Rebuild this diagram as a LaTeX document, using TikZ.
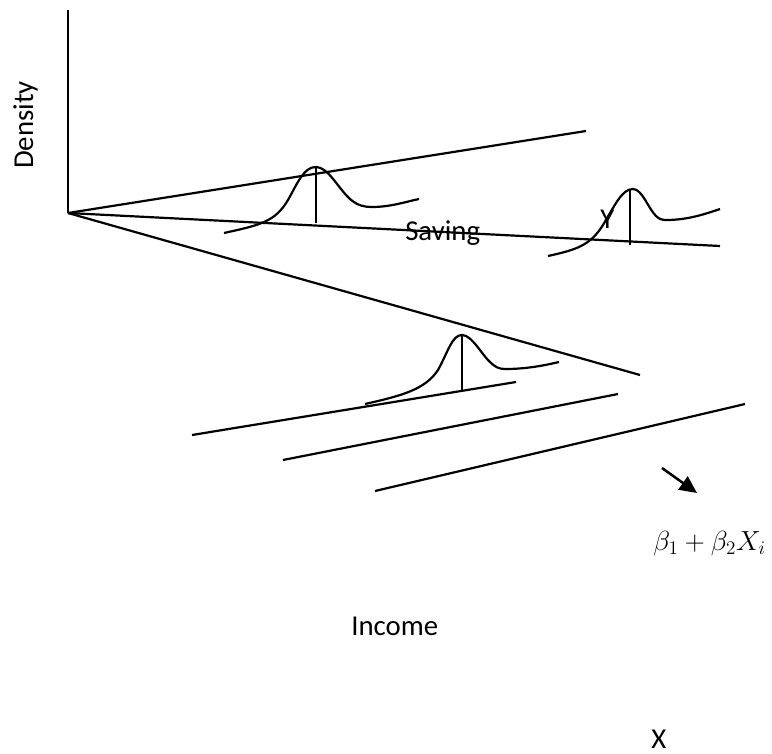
\documentclass[tikz,border=0pt]{standalone}
\usepackage{fontspec}
\setmainfont{Carlito}
\usetikzlibrary{arrows.meta}
\begin{document}
\begin{tikzpicture}[x=0.75pt,y=-0.75pt,
  ln/.style={line width=1.65pt},
  lbl/.style={font=\fontsize{21.6}{26}\selectfont, inner sep=0pt}]
\useasboundingbox (0,0) rectangle (772,754);
% axes and planes
\coordinate (o) at (68,213);
\coordinate (top) at (68,10);
\coordinate (e1) at (586,131);
\coordinate (e2) at (720,246);
\coordinate (e3) at (640,375);
\draw[ln] (top) -- (o);
\draw[ln] (o) -- (e1);
\draw[ln] (o) -- (e2);
\draw[ln] (o) -- (e3);
% lower lines
\coordinate (a1) at (192,435); \coordinate (a2) at (516,382);
\coordinate (b1) at (283,460); \coordinate (b2) at (618,394);
\coordinate (c1) at (375,491); \coordinate (c2) at (745,404);
\draw[ln] (a1) -- (a2);
\draw[ln] (b1) -- (b2);
\draw[ln] (c1) -- (c2);
% bell curve 1
\draw[ln] (224,233) .. controls (260,225) and (275,222) .. (288,200)
  .. controls (298,182) and (304,167) .. (316,167)
  .. controls (328,167) and (338,188) .. (350,199)
  .. controls (358,206) and (365,207) .. (372,207)
  .. controls (390,207) and (405,202) .. (419,199);
\coordinate (p1) at (316,167); \coordinate (q1) at (316,223);
\draw[ln] (p1) -- (q1);
% bell curve 2
\draw[ln] (548,256) .. controls (575,250) and (590,246) .. (603,225)
  .. controls (615,205) and (622,189) .. (633,189)
  .. controls (642,189) and (648,208) .. (656,216)
  .. controls (659,219) and (662,220) .. (666,220)
  .. controls (688,220) and (705,214) .. (720,209);
\coordinate (p2) at (630,190); \coordinate (q2) at (630,245);
\draw[ln] (p2) -- (q2);
% bell curve 3
\draw[ln] (365,404) .. controls (400,396) and (425,390) .. (438,370)
  .. controls (448,352) and (452,335) .. (462,335)
  .. controls (472,335) and (482,355) .. (490,362)
  .. controls (495,367) and (499,369) .. (505,369)
  .. controls (525,369) and (542,366) .. (559,362);
\coordinate (p3) at (462,335); \coordinate (q3) at (462,391);
\draw[ln] (p3) -- (q3);
% arrow
\coordinate (r1) at (662,468); \coordinate (r2) at (697,493);
\draw[line width=1.9pt,-{Triangle[length=13pt,width=12pt]}] (r1) -- (r2);
% labels
\node[lbl, rotate=90, anchor=base] (dens) at (33,125) {Density};
\node[lbl, anchor=base west] (sav) at (405,240) {Saving};
\node[lbl, anchor=base west] (yy) at (600,228) {Y};
\node[lbl, anchor=base west] (inc) at (351,635) {Income};
\node[lbl, anchor=base west] (xx) at (651,748) {X};
\node[anchor=base west, inner sep=0pt, font=\fontsize{22.5}{27}\selectfont] (beta) at (653,550) {$\beta_1+\beta_2X_i$};
\end{tikzpicture}
\end{document}
